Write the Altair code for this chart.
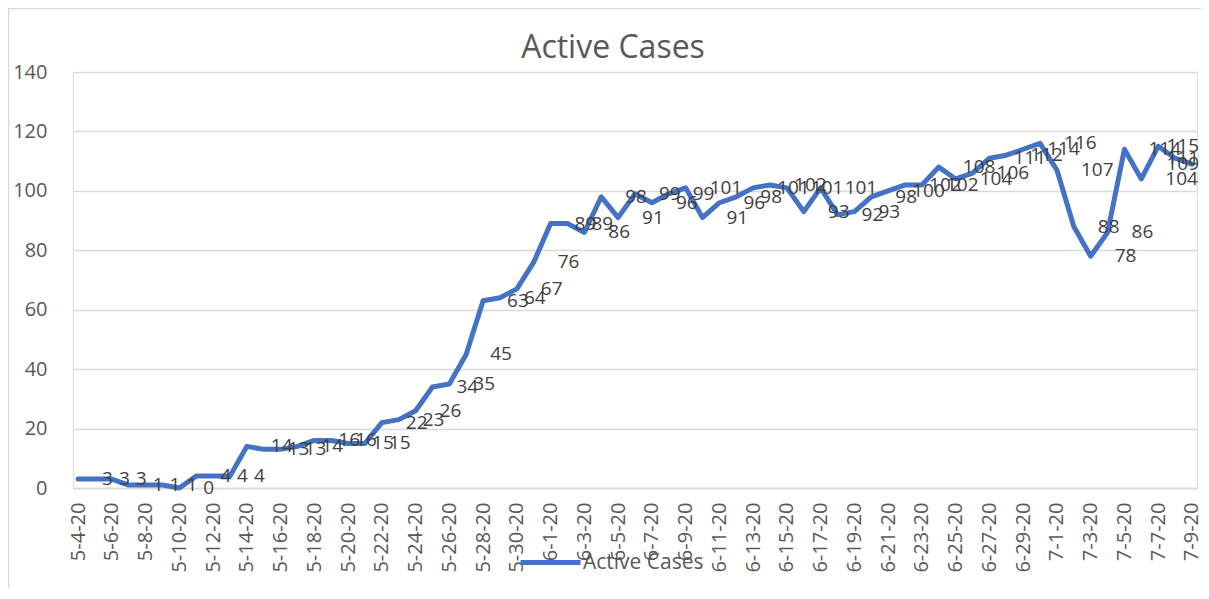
import altair as alt
import pandas as pd

dates = [
    "5-4-20", "5-5-20", "5-6-20", "5-7-20", "5-8-20", "5-9-20", "5-10-20", "5-11-20",
    "5-12-20", "5-13-20", "5-14-20", "5-15-20", "5-16-20", "5-17-20", "5-18-20", "5-19-20",
    "5-20-20", "5-21-20", "5-22-20", "5-23-20", "5-24-20", "5-25-20", "5-26-20", "5-27-20",
    "5-28-20", "5-29-20", "5-30-20", "5-31-20", "6-1-20", "6-2-20", "6-3-20", "6-4-20",
    "6-5-20", "6-6-20", "6-7-20", "6-8-20", "6-9-20", "6-10-20", "6-11-20", "6-12-20",
    "6-13-20", "6-14-20", "6-15-20", "6-16-20", "6-17-20", "6-18-20", "6-19-20", "6-20-20",
    "6-21-20", "6-22-20", "6-23-20", "6-24-20", "6-25-20", "6-26-20", "6-27-20", "6-28-20",
    "6-29-20", "6-30-20", "7-1-20", "7-2-20", "7-3-20", "7-4-20", "7-5-20", "7-6-20",
    "7-7-20", "7-8-20", "7-9-20",
]

active_cases = [
    3, 3, 3, 1, 1, 1, 0, 4, 4, 4,
    14, 13, 13, 14, 16, 16, 15, 15, 22, 23,
    26, 34, 35, 45, 63, 64, 67, 76, 89, 89,
    86, 98, 91, 99, 96, 99, 101, 91, 96, 98,
    101, 102, 101, 93, 101, 92, 93, 98, 100, 102,
    102, 108, 104, 106, 111, 112, 114, 116, 107, 88,
    78, 86, 114, 104, 115, 111, 109,
]

# labels that the original pushes back inside the right edge of the plot
edge_label_dates = ["7-7-20", "7-8-20", "7-9-20"]

tick_dates = dates[::2]
y_ticks = [0, 20, 40, 60, 80, 100, 120, 140]
series_name = "Active Cases"
chart_title = "Active Cases"

df = pd.DataFrame({"date": dates, "value": active_cases, "series": series_name})
df["edge"] = df["date"].isin(edge_label_dates)

FONT = "Open Sans"
W, H = 1124, 416

x_enc = alt.X(
    "date:O",
    sort=dates,
    scale=alt.Scale(type="point", padding=0.3),
    axis=alt.Axis(
        values=tick_dates,
        labelAngle=270,
        labelFontSize=20,
        labelColor="#595959",
        labelFont=FONT,
        labelPadding=14,
        ticks=False,
        domain=True,
        domainColor="#d9d9d9",
        domainWidth=1.3,
        title=None,
        labelOverlap=False,
        grid=False,
    ),
)
y_enc = alt.Y(
    "value:Q",
    scale=alt.Scale(domain=[0, 140], nice=False),
    axis=alt.Axis(
        values=y_ticks,
        labelFontSize=20,
        labelColor="#595959",
        labelFont=FONT,
        labelPadding=26,
        ticks=False,
        domain=False,
        grid=True,
        gridColor="#d9d9d9",
        gridWidth=1.3,
        title=None,
    ),
)

base = alt.Chart(df)

line = base.mark_line(strokeWidth=5, strokeJoin="round", strokeCap="round").encode(
    x=x_enc,
    y=y_enc,
    color=alt.Color(
        "series:N",
        scale=alt.Scale(range=["#4472C4"]),
        legend=alt.Legend(
            title=None,
            orient="none",
            legendX=445,
            legendY=458,
            symbolType="stroke",
            symbolSize=3600,
            symbolStrokeWidth=5,
            labelFontSize=21,
            labelFont=FONT,
            labelColor="#595959",
            labelOffset=0,
            padding=0,
        ),
    ),
)

labels = base.transform_filter("!datum.edge").mark_text(
    align="left", baseline="middle", dx=24, fontSize=19, font=FONT, color="#404040"
).encode(x=alt.X("date:O", sort=dates), y="value:Q", text="value:Q")

edge_labels = base.transform_filter("datum.edge").mark_text(
    align="right", baseline="middle", fontSize=19, font=FONT, color="#404040"
).encode(x=alt.value(W + 2), y="value:Q", text="value:Q")

title = alt.Chart(pd.DataFrame({"t": [chart_title]})).mark_text(
    align="center", baseline="alphabetic", fontSize=32, font=FONT, color="#595959"
).encode(x=alt.value(540), y=alt.value(-14), text="t:N")

frame = alt.Chart(pd.DataFrame({"a": [0]})).mark_rect(
    fill=None, stroke="#d9d9d9", strokeWidth=1.5
).encode(
    x=alt.value(-64.5),
    y=alt.value(-63.5),
    x2=alt.value(W + 40),
    y2=alt.value(H + 160),
)

chart = alt.layer(frame, line, labels, edge_labels, title).properties(
    width=W,
    height=H,
    padding={"left": 65, "top": 64, "right": 4, "bottom": 100},
    autosize=alt.AutoSizeParams(type="none"),
).configure_view(stroke=None).configure(background="white")

chart.save("out.html", embed_options={"renderer": "svg", "actions": False})
